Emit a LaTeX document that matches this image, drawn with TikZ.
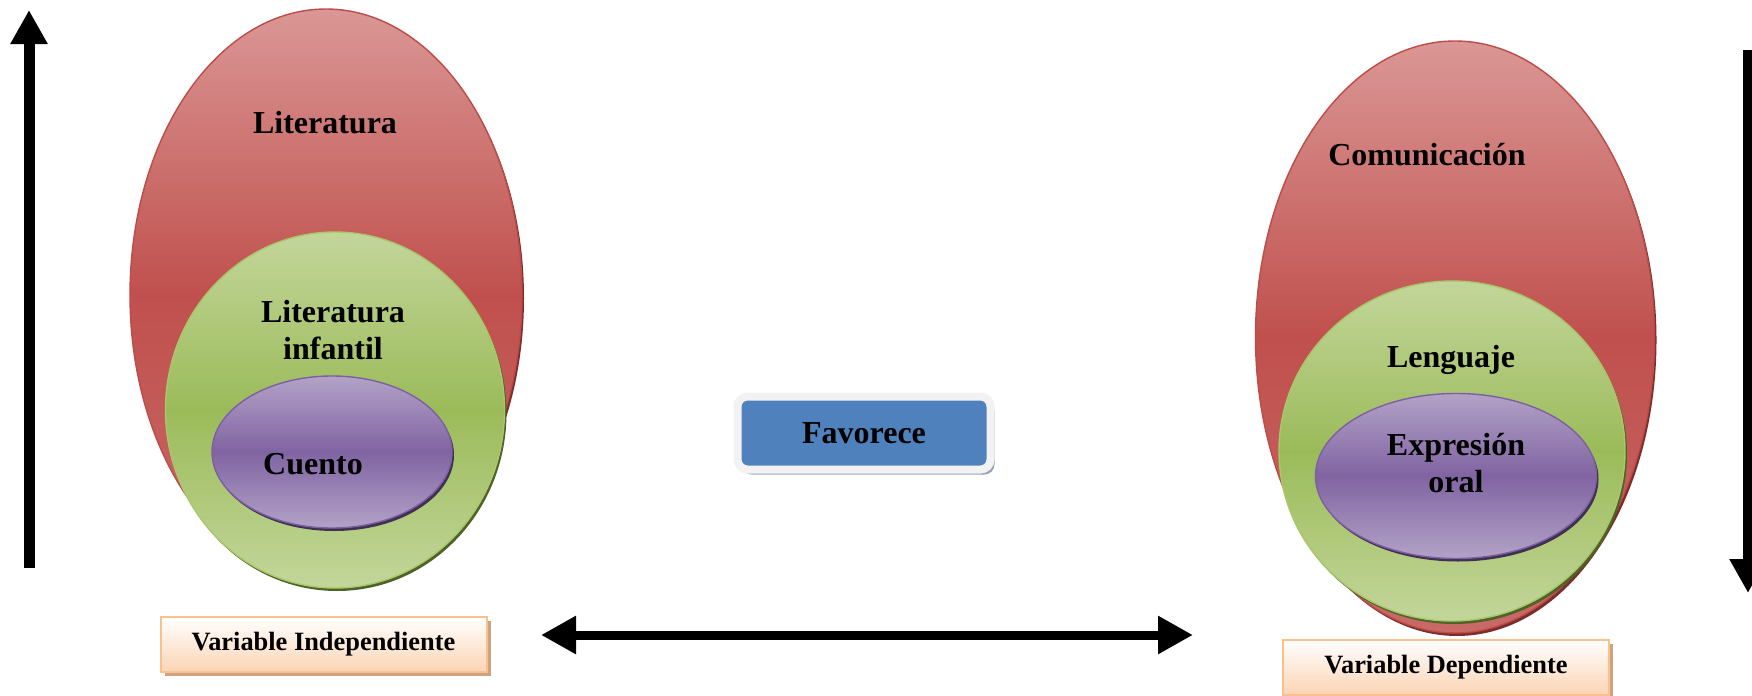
\documentclass[tikz,border=0pt]{standalone}
\usepackage{fontspec}
\setmainfont{Liberation Serif}
\usetikzlibrary{shapes.geometric,shadows,arrows.meta}

\definecolor{redlight}{HTML}{DA9795}
\definecolor{redmid}{HTML}{C0504D}
\definecolor{redlow}{HTML}{C86A67}
\definecolor{redline}{HTML}{BE4B48}
\definecolor{reddark}{HTML}{7A2E2C}
\definecolor{greenlight}{HTML}{C3D69B}
\definecolor{greenmid}{HTML}{9BBB59}
\definecolor{greenline}{HTML}{A8C86A}
\definecolor{greendark}{HTML}{4F6228}
\definecolor{purplelight}{HTML}{B3A2C7}
\definecolor{purplemid}{HTML}{8064A2}
\definecolor{purpleline}{HTML}{7D5FA3}
\definecolor{purpledark}{HTML}{3F3151}
\definecolor{varlow}{HTML}{FBD4B4}
\definecolor{varline}{HTML}{FAC090}
\definecolor{varshadow}{HTML}{CFA37E}
\definecolor{linkblue}{HTML}{4F81BD}
\definecolor{linkrim}{HTML}{F2F2F2}
\definecolor{linkshadow}{HTML}{95A3B8}

\tikzset{
  egg/.style={ellipse, inner sep=0pt, line width=0.7pt},
  redegg/.style={egg, draw=redline, top color=redlight, bottom color=redlow, middle color=redmid,
    drop shadow={shadow xshift=1pt, shadow yshift=-1.5pt, fill=reddark, opacity=1}},
  greenegg/.style={egg, draw=greenline, top color=greenlight, bottom color=greenlight, middle color=greenmid,
    drop shadow={shadow xshift=1pt, shadow yshift=-1.5pt, fill=greendark, opacity=1}},
  purpleegg/.style={egg, draw=purpleline, top color=purplelight, bottom color=purplelight, middle color=purplemid,
    drop shadow={shadow xshift=1pt, shadow yshift=-1.5pt, fill=purpledark, opacity=1}},
  eggtext/.style={font=\bfseries\fontsize{16}{18.5}\selectfont, align=center, inner sep=0pt},
  varbox/.style={draw=varline, line width=1pt, top color=white, bottom color=varlow,
    minimum width=163pt, minimum height=27.5pt, inner sep=0pt,
    font=\bfseries\fontsize{13.2}{15}\selectfont,
    general shadow={shadow xshift=2pt, shadow yshift=-2pt, fill=varshadow}},
  linkbox/.style={draw=linkrim, line width=4pt, fill=linkblue, rounded corners=5pt,
    minimum width=126.5pt, minimum height=36.5pt, inner sep=0pt,
    font=\bfseries\fontsize{16}{18.5}\selectfont,
    general shadow={shadow xshift=2pt, shadow yshift=-2.5pt, fill=linkshadow}},
  bigarrow/.style={line width=5.5pt, -{Triangle[width=17.5pt,length=17pt]}},
  wide arrow/.style={line width=4.5pt, {Triangle[width=18pt,length=17.5pt]}-{Triangle[width=18pt,length=17.5pt]}},
}

\begin{document}
\begin{tikzpicture}[x=0.5pt,y=-0.5pt]
    \useasboundingbox (0,0) rectangle (1752,696);
    % Left side: independent variable
    \node[redegg, minimum width=196pt, minimum height=286pt] (lit) at (326,295) {};
    \node[greenegg, minimum width=169.5pt, minimum height=178pt] (litinf) at (335,410) {};
    \node[purpleegg, minimum width=120pt, minimum height=76pt] (cuento) at (332,452) {};
    \node[eggtext] (tlit) at (325,123) {Literatura};
    \node[eggtext] (tlitinf) at (333,330) {Literatura\\infantil};
    \node[eggtext] (tcuento) at (313,464) {Cuento};
    \node[varbox] (vi) at (323.5,644.5) {Variable Independiente};
    % Right side: dependent variable
    \node[redegg, minimum width=199.5pt, minimum height=296pt] (com) at (1455,337) {};
    \node[greenegg, minimum width=173pt, minimum height=170pt] (leng) at (1452,451) {};
    \node[purpleegg, minimum width=140.5pt, minimum height=82.5pt] (expr) at (1456,476) {};
    \node[eggtext] (tcom) at (1427,155) {Comunicación};
    \node[eggtext] (tleng) at (1451,360) {Lenguaje};
    \node[eggtext] (texpr) at (1456,463) {Expresión\\oral};
    \node[varbox] (vd) at (1446,667) {Variable Dependiente};
    % Middle box
    \node[linkbox] (fav) at (864,433) {Favorece};
    % Arrows
    \coordinate (upfoot) at (29,568);
    \coordinate (uptip) at (29,10);
    \coordinate (downtop) at (1748,50);
    \coordinate (downtip) at (1748,593);
    \coordinate (linkleft) at (541,635);
    \coordinate (linkright) at (1193,635);
    \draw[bigarrow] (upfoot) -- (uptip);
    \draw[bigarrow] (downtop) -- (downtip);
    \draw[wide arrow] (linkleft) -- (linkright);
\end{tikzpicture}
\end{document}
